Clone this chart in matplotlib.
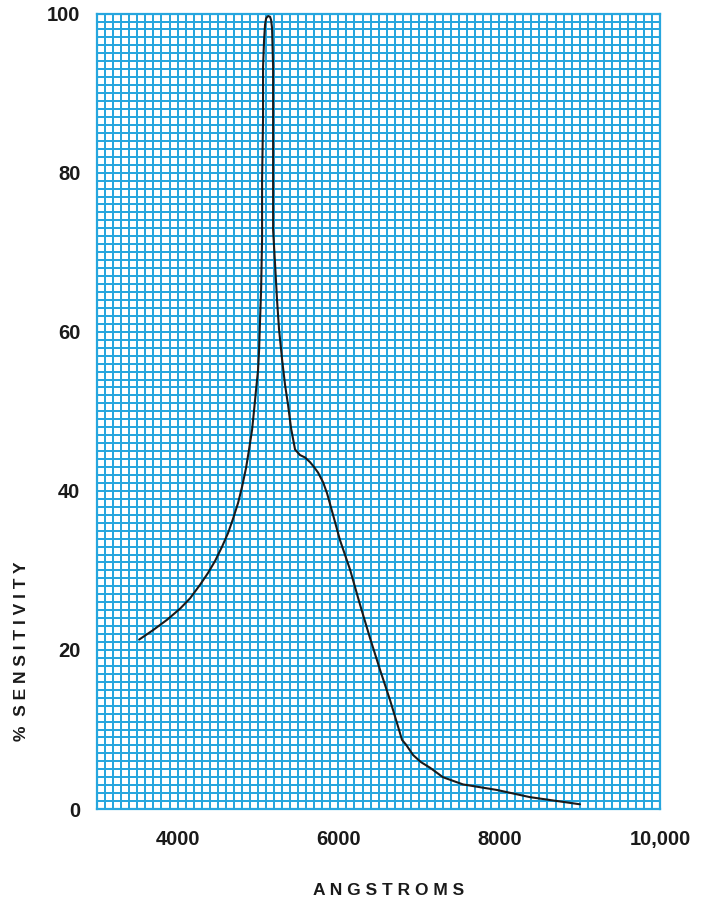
import numpy as np
import matplotlib.pyplot as plt

plt.rcParams['font.family'] = ['Liberation Sans', 'DejaVu Sans']

# spectral sensitivity curve
wavelength = [3522, 3696, 3870, 4032, 4156, 4280, 4380, 4467, 4554, 4628,
              4690, 4753, 4802, 4852, 4889, 4927, 4952, 4976, 5001, 5014,
              5026, 5039, 5051, 5051, 5063, 5063, 5076, 5088, 5101, 5126,
              5150, 5163, 5175, 5188, 5188, 5188, 5213, 5237, 5262, 5300,
              5337, 5374, 5411, 5461, 5523, 5585, 5648, 5697, 5747, 5809,
              5859, 5933, 6020, 6145, 6269, 6393, 6518, 6642, 6717, 6791,
              6841, 6928, 7027, 7139, 7301, 7549, 7972, 8382, 9004]
sensitivity = [21.3, 22.5, 23.8, 25.2, 26.5, 28.2, 29.7, 31.2, 33.0, 34.7,
               36.5, 38.5, 40.5, 42.9, 45.2, 47.7, 50.2, 52.7, 55.2, 57.7,
               61.5, 65.3, 71.6, 79.1, 86.7, 93.3, 96.7, 98.6, 99.4, 99.7,
               99.6, 99.2, 98.2, 93.3, 82.9, 72.8, 68.4, 64.0, 60.3, 56.5,
               53.3, 50.8, 47.9, 45.2, 44.5, 44.2, 43.6, 43.0, 42.3, 41.1,
               39.7, 37.0, 33.8, 30.1, 25.7, 21.5, 17.5, 13.7, 11.2, 8.7,
               8.1, 6.8, 5.9, 5.2, 4.0, 3.1, 2.4, 1.5, 0.6]

xtick_vals = [4000, 6000, 8000, 10000]
xtick_labels = ['4000', '6000', '8000', '10,000']
ytick_vals = [0, 20, 40, 60, 80, 100]

grid_blue = '#27a6de'

fig = plt.figure(figsize=(7.09, 9.05), dpi=100)
ax = fig.add_axes([0.137, 0.106, 0.794, 0.879])

ax.set_xlim(3000, 10000)
ax.set_ylim(0, 100)

# graph paper grid, crisp lines so it stays blue instead of greyish
ax.set_xticks(np.arange(3000, 10001, 100), minor=True)
ax.set_yticks(np.arange(0, 101, 1), minor=True)
ax.grid(which='minor', color=grid_blue, lw=1.2, antialiased=False)
ax.grid(which='major', color=grid_blue, lw=1.2, antialiased=False)
ax.set_axisbelow(True)

ax.set_xticks(xtick_vals)
ax.set_xticklabels(xtick_labels)
ax.set_yticks(ytick_vals)
ax.tick_params(which='both', length=0)
ax.tick_params(axis='x', pad=15, labelsize=14.5)
ax.tick_params(axis='y', pad=12, labelsize=14.5)
for lbl in ax.get_xticklabels() + ax.get_yticklabels():
    lbl.set_fontweight('bold')
    lbl.set_color('#1a1a1a')

for s in ax.spines.values():
    s.set_color(grid_blue)
    s.set_linewidth(1.6)

ax.plot(wavelength, sensitivity, color='#1a1a1a', lw=1.5,
        solid_joinstyle='round', solid_capstyle='round')

fig.text(0.548, 1 - 890 / 905, 'A N G S T R O M S', ha='center', va='center',
         fontsize=12.5, fontweight='bold', color='#1a1a1a')
fig.text(22 / 709, 1 - 651 / 905, '%  S E N S I T I V I T Y', ha='center', va='center',
         rotation=90, fontsize=12.5, fontweight='bold', color='#1a1a1a')

fig.savefig('out.png', dpi=100, facecolor='white')
